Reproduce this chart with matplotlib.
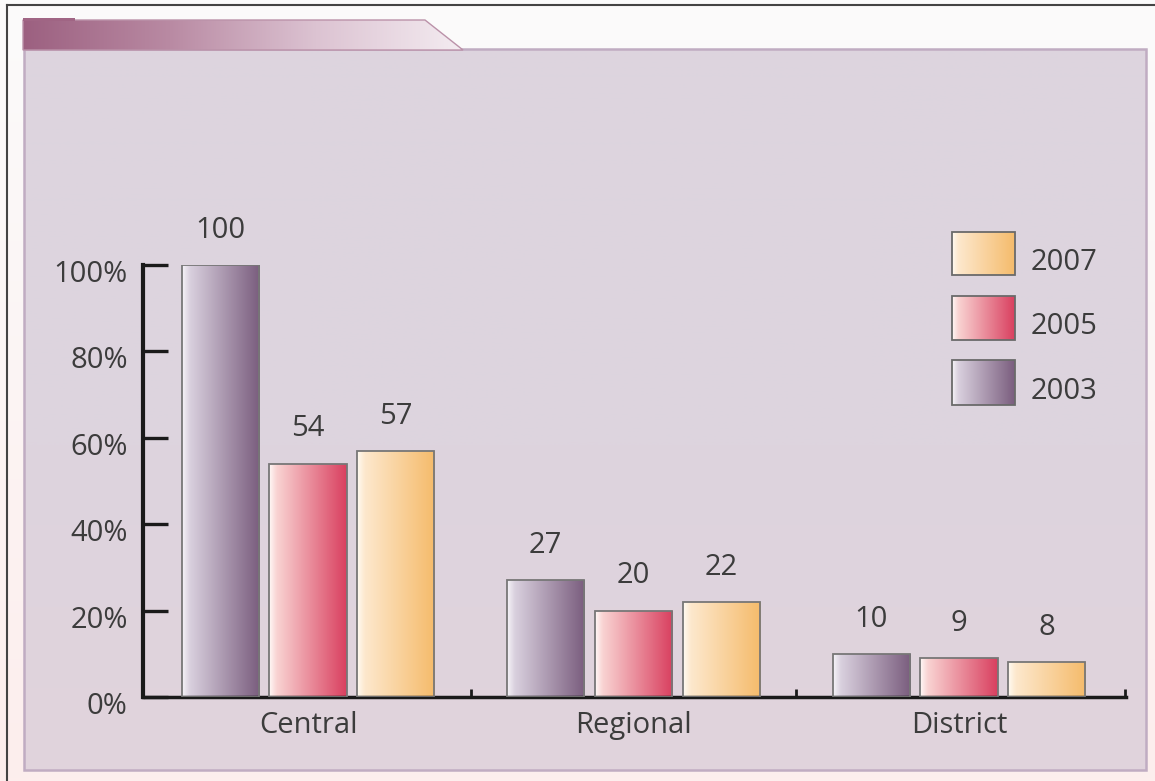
import numpy as np
import matplotlib
matplotlib.use("Agg")
import matplotlib.pyplot as plt
from matplotlib.colors import LinearSegmentedColormap, to_rgb
from matplotlib.patches import Rectangle, Polygon
from matplotlib.transforms import ScaledTranslation

plt.rcParams['font.family'] = ['Open Sans', 'DejaVu Sans']

# ---- data ----
categories = ["Central", "Regional", "District"]
years = ["2003", "2005", "2007"]
values_2003 = [100, 27, 10]
values_2005 = [54, 20, 9]
values_2007 = [57, 22, 8]
ytick_values = [0, 20, 40, 60, 80, 100]
ytick_labels = ["0%", "20%", "40%", "60%", "80%", "100%"]

series = [values_2003, values_2005, values_2007]
gradients = [
    ["#f6f4f8", "#d9d0de", "#7a5d7e"],
    ["#fff9f7", "#f9d3d2", "#d93f5f"],
    ["#fffbf3", "#fde8cd", "#f5bb6b"],
]
cmaps = [LinearSegmentedColormap.from_list(f"g{i}", [(0, c[0]), (0.1, c[1]), (1, c[2])])
         for i, c in enumerate(gradients)]

TEXT = "#3c3c3c"
FS = 21

W, H = 1155, 781
fig = plt.figure(figsize=(W / 100, H / 100), dpi=100)

# ---- background layer in pixel coordinates ----
bg = fig.add_axes([0, 0, 1, 1])
bg.set_xlim(0, W)
bg.set_ylim(H, 0)
bg.axis("off")

def vgrad(top, bottom, n=256):
    t = np.linspace(0, 1, n)[:, None]
    a, b = np.array(to_rgb(top)), np.array(to_rgb(bottom))
    return (a * (1 - t) + b * t)[:, None, :].repeat(2, axis=1)

bg.imshow(vgrad("#fbfbfb", "#fdeeed"), extent=(0, W, H, 0), aspect="auto", zorder=0)

# outer frame (top and left edges)
bg.plot([7, 7], [H, 5], color="#444444", lw=1.5, zorder=1)
bg.plot([7, W], [5, 5], color="#444444", lw=1.5, zorder=1)

# main panel
panel_grad = np.concatenate([vgrad("#ddd5df", "#ddd4de", 140), vgrad("#ddd4de", "#e1d3dc", 116)])
bg.imshow(panel_grad, extent=(24, 1146, 770, 49), aspect="auto", zorder=2)
bg.add_patch(Rectangle((24, 49), 1122, 721, fill=False, edgecolor="#c0acc2", lw=1.8, zorder=3))

# header tab
tab = Polygon([(23, 20), (425, 20), (463, 50), (23, 50)], closed=True,
              facecolor="none", edgecolor="#bb92a9", lw=1, zorder=4)
bg.add_patch(tab)
hx = np.linspace(0, 1, 256)[None, :]
hcol = LinearSegmentedColormap.from_list("hdr", ["#9c6080", "#b98aa3", "#dcc3d2", "#f4ecf1"])
img = bg.imshow(hx, cmap=hcol, extent=(23, 463, 50, 20), aspect="auto", zorder=3)
img.set_clip_path(tab)
bg.add_patch(Rectangle((23, 18), 52, 3, facecolor="#a06584", edgecolor="none", zorder=4))

# legend boxes (drawn in pixel space)
legend_rows = [("2007", 2, 232, 275), ("2005", 1, 296, 340), ("2003", 0, 360, 405)]
for label, si, y0, y1 in legend_rows:
    box = Rectangle((952, y0), 63, y1 - y0, facecolor="none", edgecolor="#6a6a6a", lw=1.3, zorder=6)
    bg.add_patch(box)
    im = bg.imshow(hx, cmap=cmaps[si], extent=(952, 1015, y1, y0), aspect="auto", zorder=5)
    im.set_clip_path(box)
    bg.text(1031, (y0 + y1) / 2 + 9, label, fontsize=FS, color=TEXT, va="center", ha="left", zorder=6)

bg.set_xlim(0, W)
bg.set_ylim(H, 0)

# ---- chart axes ----
left, right = 143 / W, 1126 / W
bottom, top = (H - 697) / H, (H - 265) / H
ax = fig.add_axes([left, bottom, right - left, top - bottom])
ax.patch.set_visible(False)

xpos = np.arange(len(categories))
offset = 0.27
width = 0.237
for si, vals in enumerate(series):
    xs = xpos + (si - 1) * offset
    bars = ax.bar(xs, vals, width=width, facecolor="none", edgecolor="#777777", lw=1.3, zorder=3)
    for rect, v in zip(bars, vals):
        x0 = rect.get_x()
        im = ax.imshow(hx, cmap=cmaps[si], extent=(x0, x0 + width, 0, v), aspect="auto", zorder=2)
        im.set_clip_path(rect)
        ax.annotate(f"{v}", (rect.get_x() + width / 2, v), xytext=(0, 25), textcoords="offset points",
                    ha="center", va="center", fontsize=FS, color=TEXT, annotation_clip=False)

ax.set_xlim(-0.507, 2.513)
ax.set_ylim(0, 100)

for s in ["top", "right"]:
    ax.spines[s].set_visible(False)
ax.spines["left"].set_linewidth(3)
ax.spines["left"].set_color("#1a1a1a")
ax.spines["bottom"].set_linewidth(2.5)
ax.spines["bottom"].set_color("#1a1a1a")

ax.set_yticks(ytick_values)
ax.set_yticklabels(ytick_labels)
ax.tick_params(axis="y", direction="in", length=18, width=2.4, color="#1a1a1a",
               labelsize=FS, labelcolor=TEXT, pad=11)
off = ScaledTranslation(0, -6 / 100, fig.dpi_scale_trans)
for lbl in ax.get_yticklabels():
    lbl.set_transform(lbl.get_transform() + off)

ax.set_xticks(xpos)
ax.set_xticklabels(categories)
ax.tick_params(axis="x", which="major", length=0, labelsize=FS, labelcolor=TEXT, pad=10)
ax.set_xticks([0.5, 1.5, 2.51], minor=True)
ax.tick_params(axis="x", which="minor", direction="in", length=6, width=2, color="#1a1a1a")

fig.savefig("out.png", dpi=100)
